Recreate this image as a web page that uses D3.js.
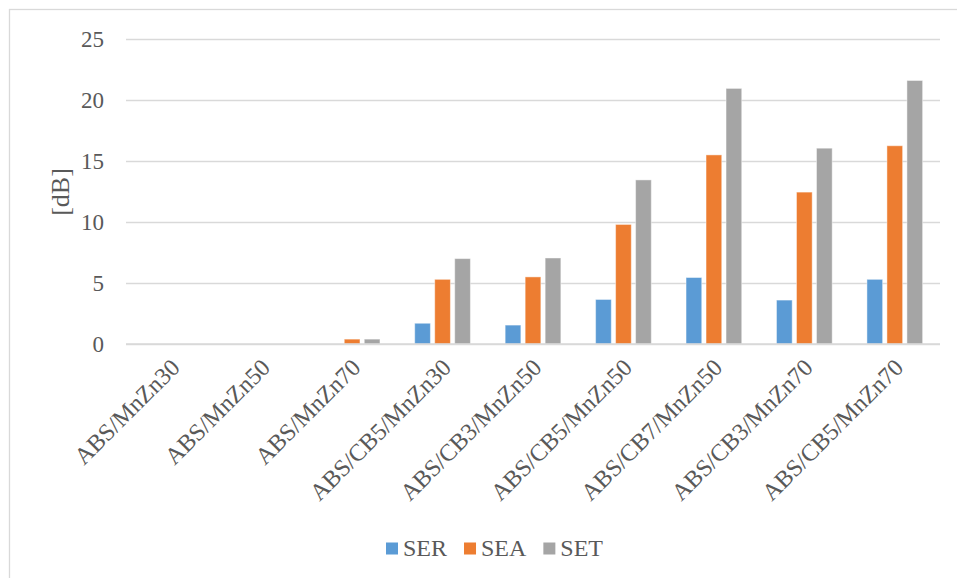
<!DOCTYPE html>
<html>
<head>
<meta charset="utf-8">
<script src="https://cdn.jsdelivr.net/npm/d3@7"></script>
<style>
  body { margin: 0; background: #fff; }
  text { font-family: "Liberation Serif", "Times New Roman", serif; fill: #595959; }
</style>
</head>
<body>
<svg id="chart"></svg>
<script>
var width = 957
var height = 578

// data
var categories = ["ABS/MnZn30", "ABS/MnZn50", "ABS/MnZn70", "ABS/CB5/MnZn30", "ABS/CB3/MnZn50",
  "ABS/CB5/MnZn50", "ABS/CB7/MnZn50", "ABS/CB3/MnZn70", "ABS/CB5/MnZn70"]
var seriesNames = ["SER", "SEA", "SET"]
var serValues = [0, 0, 0, 1.7, 1.55, 3.65, 5.45, 3.6, 5.3]
var seaValues = [0, 0, 0.4, 5.3, 5.5, 9.8, 15.5, 12.45, 16.25]
var setValues = [0, 0, 0.4, 7.0, 7.05, 13.45, 20.95, 16.05, 21.6]
var yTicks = [0, 5, 10, 15, 20, 25]
var colors = ["#5B9BD5", "#ED7D31", "#A5A5A5"]

var seriesValues = [serValues, seaValues, setValues]

var svg = d3.select("#chart")
  .attr("width", width)
  .attr("height", height)

// chart area border (only top and left are in frame)
svg.append("rect")
  .attr("x", 9.5)
  .attr("y", 9.5)
  .attr("width", 1000)
  .attr("height", 1000)
  .attr("fill", "none")
  .attr("stroke", "#D9D9D9")
  .attr("stroke-width", 1.3)

var x0 = d3.scaleBand()
  .domain(categories)
  .range([126, 940])

var x1 = d3.scaleBand()
  .domain(seriesNames)
  .range([-30, 30])
  .paddingInner(0.215)
  .paddingOuter(0.1075)

var y = d3.scaleLinear()
  .domain([0, 25])
  .range([344, 39])

// gridlines + y labels
var yAxis = d3.axisLeft(y)
  .tickValues(yTicks)
  .tickSize(-(940 - 126))
  .tickPadding(22)

var gy = svg.append("g")
  .attr("transform", "translate(126,0)")
  .call(yAxis)
gy.select(".domain").remove()
gy.selectAll(".tick line")
  .attr("stroke", "#D9D9D9")
  .attr("stroke-width", 1.3)
gy.selectAll(".tick text")
  .style("font-size", "23px")
  .style("font-family", "Liberation Serif, serif")
  .attr("fill", "#595959")

// bars
var groups = svg.selectAll("g.cat")
  .data(categories)
  .join("g")
  .attr("class", "cat")
  .attr("transform", function(d){
    return "translate(" + (x0(d) + x0.bandwidth() / 2) + ",0)"
  })

groups.selectAll("rect")
  .data(function(d, i){
    return seriesNames.map(function(s, j){
      return {series: s, value: seriesValues[j][i], color: colors[j]}
    })
  })
  .join("rect")
  .attr("x", function(d){ return x1(d.series) })
  .attr("y", function(d){ return y(d.value) })
  .attr("width", x1.bandwidth())
  .attr("height", function(d){ return y(0) - y(d.value) })
  .attr("fill", function(d){ return d.color })
  .attr("stroke", "#fff")
  .attr("stroke-opacity", 0.45)
  .attr("stroke-width", 1)

// x axis line
svg.append("line")
  .attr("x1", 126)
  .attr("x2", 940)
  .attr("y1", y(0))
  .attr("y2", y(0))
  .attr("stroke", "#D9D9D9")
  .attr("stroke-width", 1.5)

// rotated category labels
svg.selectAll("text.xlab")
  .data(categories)
  .join("text")
  .attr("class", "xlab")
  .attr("text-anchor", "end")
  .attr("dy", "0.35em")
  .style("font-size", "24px")
  .attr("transform", function(d){
    var cx = x0(d) + x0.bandwidth() / 2 + 4
    return "translate(" + cx + ",363) rotate(-45)"
  })
  .text(function(d){ return d })

// y title
svg.append("text")
  .attr("transform", "translate(60,192) rotate(-90)")
  .attr("text-anchor", "middle")
  .attr("dy", "0.35em")
  .style("font-size", "26px")
  .text("[dB]")

// legend
var legend = svg.append("g")
  .attr("transform", "translate(0,556)")

var lx = 386
seriesNames.forEach(function(s, i){
  legend.append("rect")
    .attr("x", lx)
    .attr("y", -13.5)
    .attr("width", 12)
    .attr("height", 12)
    .attr("fill", colors[i])
  var t = legend.append("text")
    .attr("x", lx + 17)
    .attr("y", 0)
    .style("font-size", "24px")
    .text(s)
  lx = lx + 17 + t.node().getComputedTextLength() + 17
})
</script>
</body>
</html>
